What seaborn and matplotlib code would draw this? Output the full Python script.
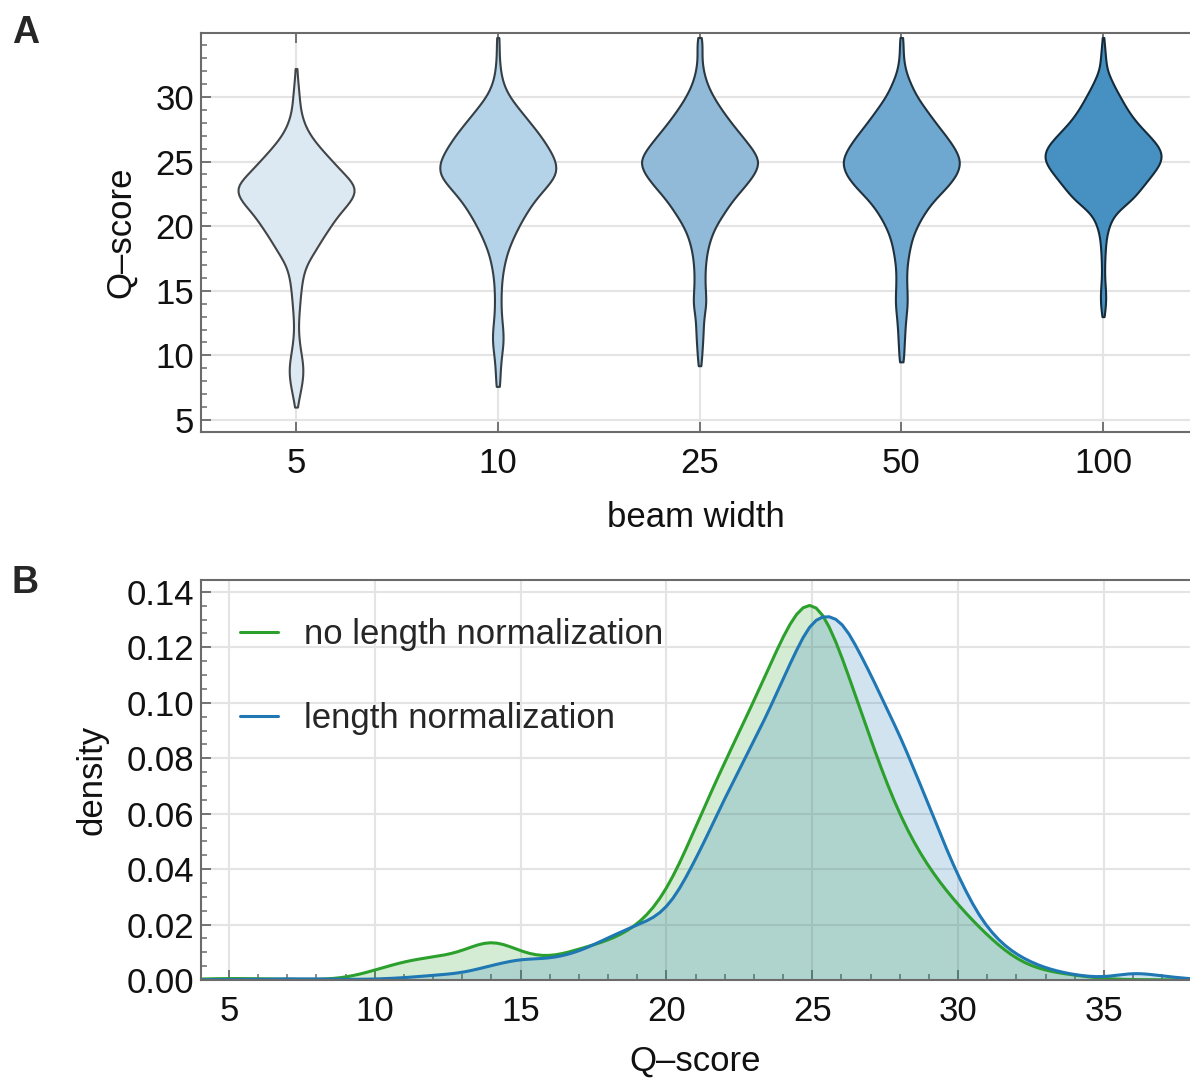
import numpy as np
import pandas as pd
import matplotlib
matplotlib.use("Agg")
import matplotlib.pyplot as plt
from matplotlib.ticker import MultipleLocator, FormatStrFormatter
import seaborn as sns

# ---------------- data ----------------
beam_widths = ["5", "10", "25", "50", "100"]

# Panel A: Q-score values and relative frequencies per beam width
q_bw5 = [6.0, 7, 8, 9, 10, 11, 12, 13, 14, 15, 16, 17, 18, 19, 20, 21, 22, 23, 24, 25, 26, 27, 28, 29, 30, 31, 32.2]
f_bw5 = [1, 3.5, 6, 7, 5, 3, 2, 2.5, 3.5, 4.5, 6, 9, 17, 24, 32, 40, 52, 58, 45, 34, 23, 13, 7, 4, 3, 2, 1]

q_bw10 = [7.6, 8, 9, 10, 11, 12, 13, 14, 15, 16, 17, 18, 19, 20, 21, 22, 23, 24, 25, 26, 27, 28, 29, 30, 31, 32, 33, 34, 34.6]
f_bw10 = [1, 1.5, 2.5, 3.5, 5.5, 5, 3.5, 3, 3.2, 4, 6, 9, 14, 20, 27, 35, 46, 57, 56, 49, 41, 31, 21, 11, 5, 2.5, 1.5, 1, 1]

q_bw25 = [9.2, 10, 11, 12, 13, 14, 15, 16, 17, 18, 19, 20, 21, 22, 23, 24, 25, 26, 27, 28, 29, 30, 31, 32, 33, 34, 34.6]
f_bw25 = [1, 2, 3, 3.5, 4, 6.5, 5.5, 5, 5.5, 7, 10, 15, 23, 31, 42, 52, 58, 50, 40, 30, 21, 13, 7, 3.5, 2, 2.5, 1]

q_bw50 = [9.5, 10, 11, 12, 13, 14, 15, 16, 17, 18, 19, 20, 21, 22, 23, 24, 25, 26, 27, 28, 29, 30, 31, 32, 33, 34, 34.6]
f_bw50 = [1, 2, 3, 3.5, 4.5, 6, 5.5, 5, 5.5, 7.5, 10, 15, 22, 31, 44, 54, 58, 52, 43, 33, 24, 15, 9, 4, 2, 1.5, 1]

q_bw100 = [13.0, 13.5, 14, 14.5, 15, 15.5, 16, 16.5, 17, 17.5, 18, 18.5, 19, 19.5, 20, 20.5, 21, 21.5,
           22, 22.5, 23, 23.5, 24, 24.5, 25, 25.5, 26, 26.5, 27, 27.5, 28, 28.5, 29, 29.5, 30, 30.5,
           31, 31.5, 32, 32.5, 33, 33.5, 34, 34.6]
f_bw100 = [1, 2, 2.5, 2.8, 2.5, 2, 1.5, 1.5, 1.5, 1.8, 2, 2.5, 3, 4, 6, 8, 12, 19,
           28, 33, 38, 43, 48, 53, 57, 58, 56, 51, 45, 39, 33, 28, 24, 20, 17, 13,
           10, 7, 4, 3, 2.5, 2, 1.5, 1]

violin_colors = ["#dce8f2", "#b5d3e8", "#90bad8", "#6ea7cf", "#4690c2"]

# Panel B: density read at integer Q-scores
kde_q = [4, 5, 6, 7, 8, 9, 10, 11, 12, 13, 14, 15, 16, 17, 18, 19, 20, 21,
         22, 23, 24, 25, 26, 27, 28, 29, 30, 31, 32, 33, 34, 35, 36, 37, 38]
dens_no_norm = [0.0004, 0.0006, 0.0005, 0.0002, 0.0001, 0.0005, 0.0035, 0.007, 0.0085, 0.0095,
                0.017, 0.0095, 0.0075, 0.0115, 0.014, 0.019, 0.030, 0.056, 0.080, 0.101,
                0.126, 0.149, 0.119, 0.087, 0.058, 0.040, 0.027, 0.016, 0.0066, 0.0030,
                0.0018, 0.0003, 0.0001, 0.0001, 0.0]
dens_norm = [0.0001, 0.0001, 0.0002, 0.0005, 0.0004, 0.0002, 0.0003, 0.0008, 0.0018, 0.0025,
             0.0055, 0.0082, 0.0078, 0.0105, 0.016, 0.021, 0.0245, 0.045, 0.069, 0.090,
             0.113, 0.140, 0.139, 0.115, 0.093, 0.066, 0.038, 0.018, 0.009, 0.0042,
             0.0018, 0.0006, 0.0032, 0.0015, 0.0003]
label_no_norm = "no length normalization"
label_norm = "length normalization"
color_no_norm = "#2ca02c"
color_norm = "#1f77b4"

# ---------------- style ----------------
sns.set_theme(style="ticks")
plt.rcParams["font.family"] = ["Liberation Sans", "DejaVu Sans"]
plt.rcParams.update({
    "axes.edgecolor": "#6b6b6b",
    "axes.linewidth": 1.5,
    "xtick.direction": "in",
    "ytick.direction": "in",
    "xtick.color": "#6b6b6b",
    "ytick.color": "#6b6b6b",
    "xtick.labelcolor": "#111111",
    "ytick.labelcolor": "#111111",
    "axes.labelcolor": "#111111",
    "grid.color": "#e4e4e4",
    "grid.linewidth": 1.5,
    "axes.axisbelow": True,
})
FS = 25

fig = plt.figure(figsize=(11.9, 10.8), dpi=100)
axA = fig.add_axes([201 / 1190, 1 - 432 / 1080, 989 / 1190, 399 / 1080])
axB = fig.add_axes([201 / 1190, 1 - 980 / 1080, 989 / 1190, 400 / 1080])

# ---------------- panel A ----------------
qs = [q_bw5, q_bw10, q_bw25, q_bw50, q_bw100]
fs = [f_bw5, f_bw10, f_bw25, f_bw50, f_bw100]
frames = []
for bw, q, f in zip(beam_widths, qs, fs):
    counts = np.round(np.array(f) * 10).astype(int)
    frames.append(pd.DataFrame({"beam": bw, "q": np.repeat(np.array(q, float), counts)}))
dfA = pd.concat(frames, ignore_index=True)

sns.violinplot(data=dfA, x="beam", y="q", hue="beam", order=beam_widths, hue_order=beam_widths,
               palette=violin_colors, legend=False, inner=None, cut=0, density_norm="width",
               width=0.575, bw_method=0.16, linewidth=1.5, saturation=1, ax=axA)
for coll in axA.collections:
    fc = np.array(coll.get_facecolor()[0][:3])
    coll.set_edgecolor(tuple(fc * 0.3))

axA.set_xlim(-0.471, 4.431)
axA.set_ylim(4.07, 34.95)
axA.yaxis.set_major_locator(MultipleLocator(5))
axA.yaxis.set_minor_locator(MultipleLocator(1))
axA.grid(True, which="major")
axA.tick_params(axis="x", which="major", top=True, bottom=True, length=7, width=1.3, pad=10.5, labelsize=FS)
axA.tick_params(axis="y", which="major", left=True, right=False, length=7, width=1.3, pad=5, labelsize=FS)
axA.tick_params(axis="y", which="minor", left=True, right=False, length=4, width=1.1)
axA.spines["right"].set_visible(False)
axA.set_xlabel("beam width", fontsize=FS, labelpad=15.5)
axA.set_ylabel("Q–score", fontsize=FS, labelpad=13)

# ---------------- panel B ----------------
sns.kdeplot(x=kde_q, weights=dens_no_norm, bw_method=0.17, fill=True, color=color_no_norm,
            alpha=0.2, linewidth=0, ax=axB)
sns.kdeplot(x=kde_q, weights=dens_norm, bw_method=0.17, fill=True, color=color_norm,
            alpha=0.2, linewidth=0, ax=axB)
sns.kdeplot(x=kde_q, weights=dens_no_norm, bw_method=0.17, color=color_no_norm,
            linewidth=2.2, ax=axB, label=label_no_norm)
sns.kdeplot(x=kde_q, weights=dens_norm, bw_method=0.17, color=color_norm,
            linewidth=2.2, ax=axB, label=label_norm)

axB.set_xlim(4.04, 37.95)
axB.set_ylim(0, 0.1443)
axB.xaxis.set_major_locator(MultipleLocator(5))
axB.xaxis.set_minor_locator(MultipleLocator(1))
axB.yaxis.set_major_locator(MultipleLocator(0.02))
axB.yaxis.set_minor_locator(MultipleLocator(0.005))
axB.yaxis.set_major_formatter(FormatStrFormatter("%.2f"))
axB.grid(True, which="major")
axB.tick_params(axis="both", which="major", length=7, width=1.3, labelsize=FS)
axB.tick_params(axis="x", which="major", pad=10.5)
axB.tick_params(axis="y", which="major", pad=5)
axB.tick_params(axis="both", which="minor", length=4, width=1.1)
axB.tick_params(top=False, right=False, which="both")
axB.spines["right"].set_visible(False)
axB.set_xlabel("Q–score", fontsize=FS, labelpad=12.5)
axB.set_ylabel("density", fontsize=FS, labelpad=13)

axB.legend(loc="upper left", bbox_to_anchor=(39 / 989, 0.905), frameon=False, fontsize=FS,
           borderpad=0, borderaxespad=0, handlelength=1.1, handletextpad=0.75, labelspacing=1.48)

# panel letters
fig.text(0.010, 1 - 15 / 1080, "A", fontsize=27, fontweight="bold", va="top", ha="left")
fig.text(0.010, 1 - 565 / 1080, "B", fontsize=27, fontweight="bold", va="top", ha="left")

fig.savefig("out.png", dpi=100)
